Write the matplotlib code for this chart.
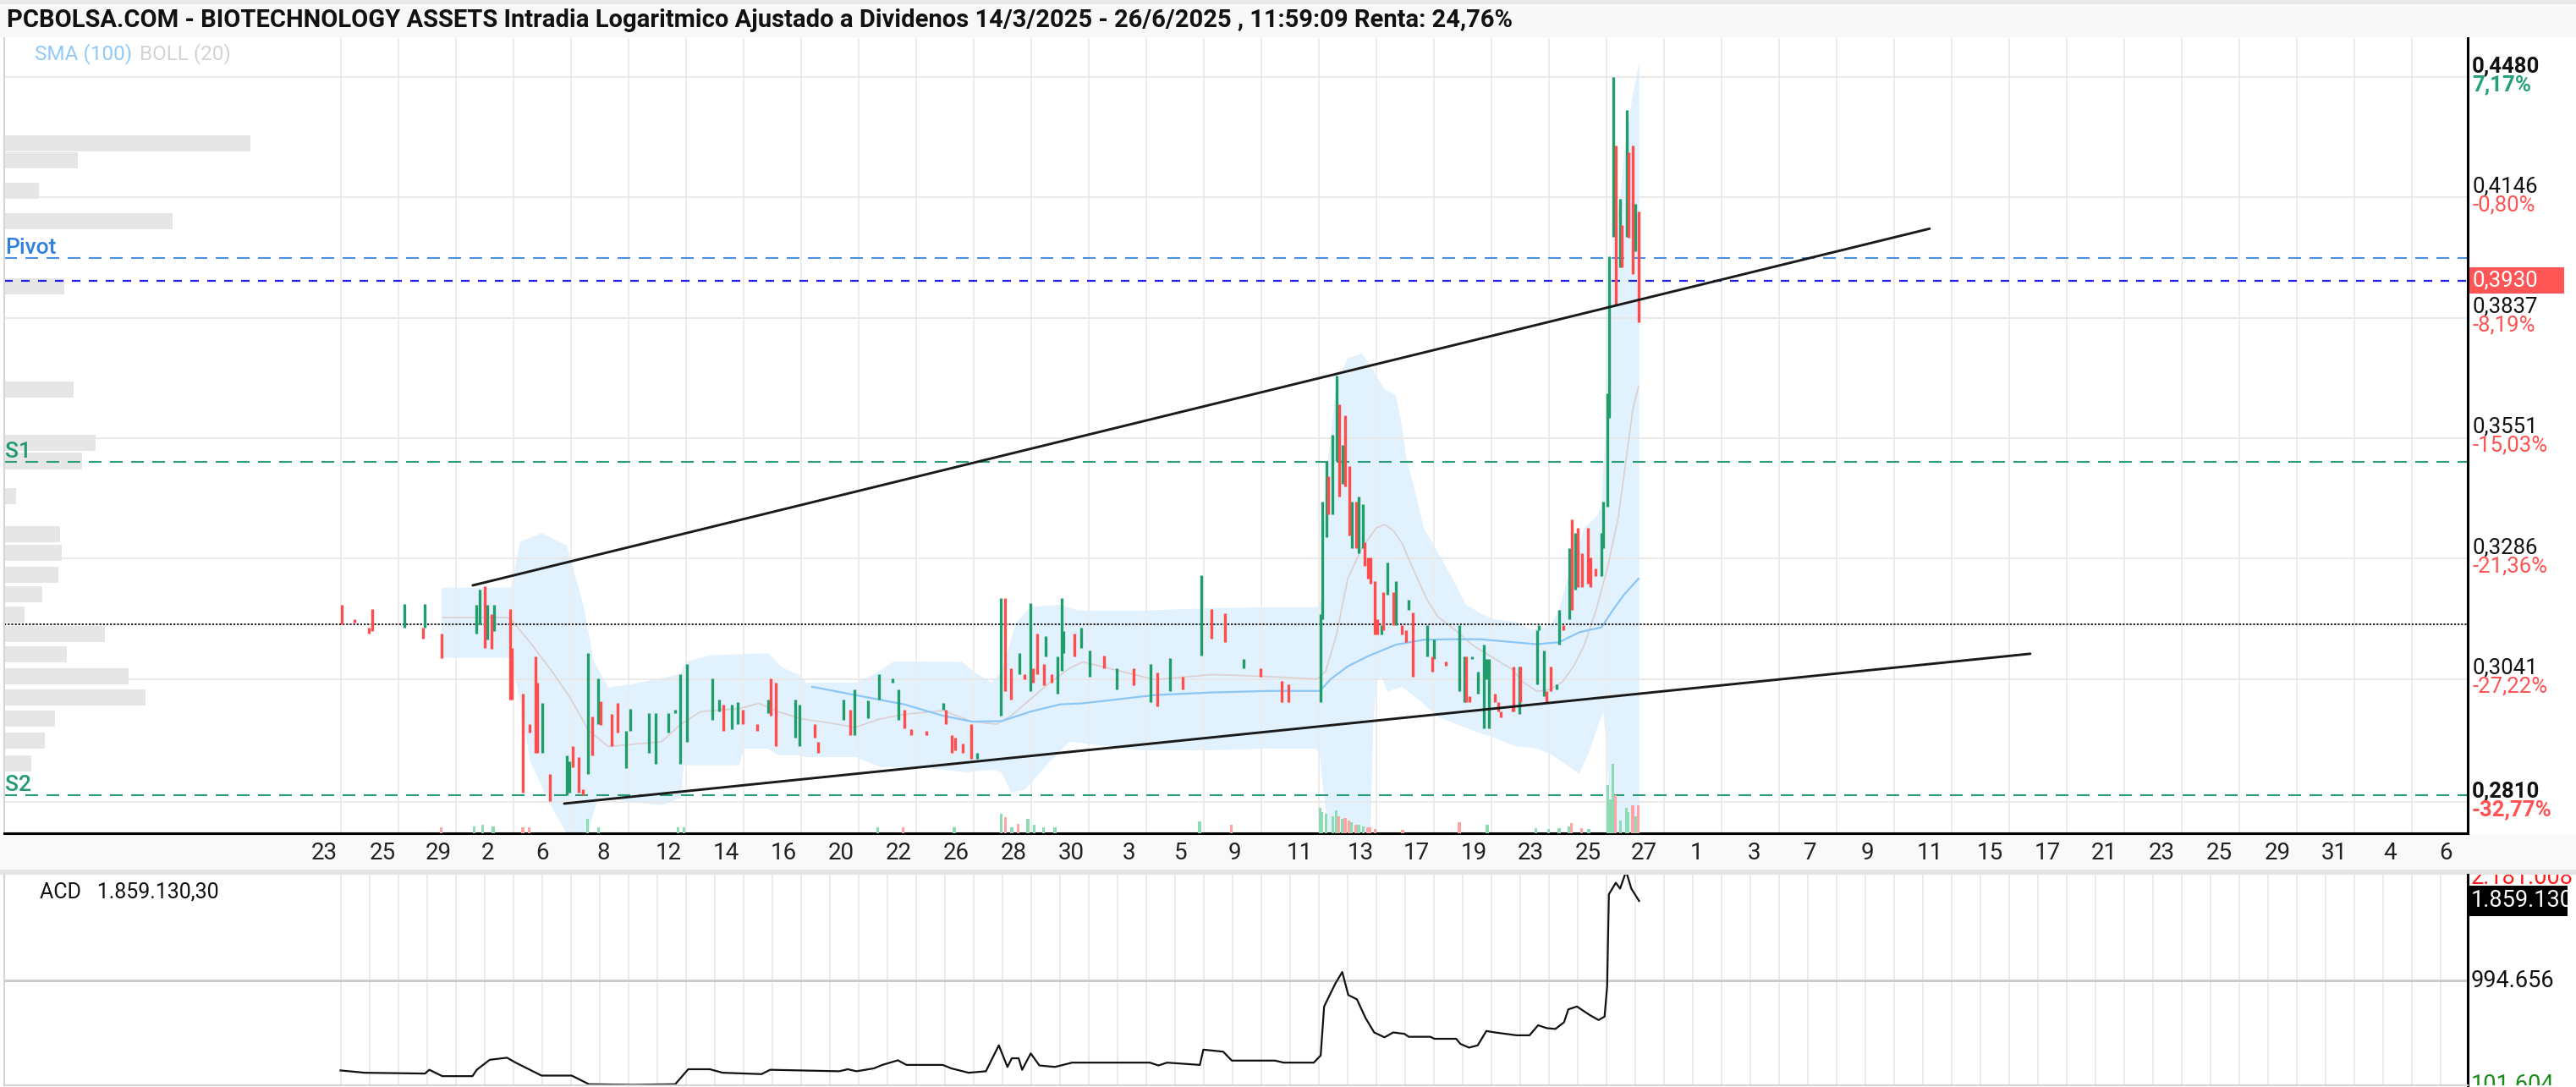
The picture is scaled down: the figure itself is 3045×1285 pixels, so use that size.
import numpy as np
import matplotlib
matplotlib.use('Agg')
import matplotlib.pyplot as plt
from matplotlib.patches import Rectangle
from matplotlib.ticker import FixedLocator, NullLocator
from matplotlib.transforms import offset_copy, blended_transform_factory

plt.rcParams['font.family'] = ['Roboto', 'DejaVu Sans']

# ---------------- data (x = trading-day index) ----------------
title = ("PCBOLSA.COM - BIOTECHNOLOGY ASSETS Intradia Logaritmico Ajustado a Dividenos "
         "14/3/2025 - 26/6/2025 , 11:59:09 Renta: 24,76%")

tick_days = [11.12, 13.15, 15.09, 16.82, 18.71, 20.82, 23.09, 25.09, 27.09, 29.09, 31.09, 33.09,
             35.09, 37.09, 39.09, 40.91, 42.79, 45.03, 47.15, 49.09, 51.09, 53.06, 55.06, 57.0,
             58.85, 60.85, 62.79, 64.79, 66.94, 69.03, 71.03, 73.0, 75.0, 77.0, 79.03, 81.0,
             82.94, 84.88]
tick_labels = ['23', '25', '29', '2', '6', '8', '12', '14', '16', '20', '22', '26', '28', '30',
               '3', '5', '9', '11', '13', '17', '19', '23', '25', '27', '1', '3', '7', '9', '11',
               '15', '17', '21', '23', '25', '29', '31', '4', '6']

c_day = [11.74, 12.18, 12.68, 12.79, 13.91, 14.62, 14.56, 15.21, 16.41, 16.53, 16.71, 16.79, 16.94,
         17.03, 17.59, 17.65, 18.03, 18.26, 18.47, 18.53, 18.71, 18.97, 19.56, 19.65, 19.76, 19.97,
         20.12, 20.29, 20.44, 20.65, 20.74, 21.12, 21.32, 21.62, 21.76, 22.41, 22.65, 23.09, 23.32,
         23.50, 23.74, 24.62, 24.85, 25.00, 25.29, 25.50, 25.68, 26.18, 26.56, 26.65, 26.82, 27.50,
         27.65, 28.18, 28.29, 29.18, 29.41, 29.56, 30.03, 30.41, 30.88, 31.09, 31.29, 31.53, 32.06,
         32.65, 32.74, 32.94, 33.06, 33.32, 33.62, 33.82, 34.65, 34.79, 35.00, 35.29, 35.47, 35.68,
         35.76, 35.91, 36.15, 36.21, 36.41, 36.62, 36.76, 36.82, 37.21, 37.44, 37.74, 38.24, 38.68,
         39.26, 39.85, 40.09, 40.53, 40.97, 41.62, 41.97, 42.44, 43.09, 43.68, 44.41, 44.65, 45.76,
         45.82, 45.97, 46.03, 46.18, 46.32, 46.41, 46.53, 46.62, 46.76, 46.85, 47.00, 47.09, 47.24,
         47.29, 47.41, 47.50, 47.65, 47.74, 47.88, 47.94, 48.09, 48.29, 48.38, 48.59, 48.74, 48.82,
         48.97, 49.47, 49.65, 49.71, 50.12, 50.59, 50.76, 50.82, 50.94, 51.03, 51.24, 51.44, 51.53,
         51.62, 51.82, 51.94, 52.03, 52.44, 52.47, 52.68, 52.71, 53.29, 53.35, 53.53, 53.62, 53.76,
         53.97, 54.06, 54.21, 54.41, 54.50, 54.62, 54.71, 54.85, 55.06, 55.15, 55.32, 55.53, 55.59,
         55.74, 55.79, 55.94, 56.03, 56.18, 56.24, 56.41, 56.47, 56.62, 56.71, 56.82]
c_open = [.3190, .3161, .3144, .3182, .3144, .3144, .3143, .3131, .3131, .3151, .3228, .3119, .3170,
          .3136, .3182, .3102, .3013, .2954, .3085, .3034, .2900, .2861, .2822, .2827, .2913, .2892,
          .2833, .2861, .2968, .2954, .2998, .2973, .2994, .2872, .2941, .2900, .2880, .2938, .2976,
          .2880, .2921, .2962, .2978, .2992, .2944, .2954, .2981, .2954, .2976, .3042, .3034, .2929,
          .2913, .2954, .2921, .2962, .2981, .2933, .2965, .3002, .3034, .2962, .2981, .2944, .2941,
          .2981, .2981, .2933, .2929, .2917, .2954, .2889, .2970, .3204, .3063, .3051, .3051, .3018,
          .3063, .3131, .3071, .3085, .3051, .3013, .3057, .3092, .3131, .3102, .3046, .3088, .3021,
          .3063, .2997, .3054, .3017, .3046, .3088, .3182, .3173, .3063, .3063, .3037, .3031, .2997,
          .3160, .3331, .3465, .3381, .3499, .3628, .3448, .3604, .3488, .3309, .3408, .3298, .3309,
          .3320, .3288, .3288, .3239, .3160, .3129, .3216, .3211, .3216, .3149, .3149, .3139, .3180,
          .3175, .3086, .3086, .3081, .3076, .3017, .2997, .3086, .3007, .3081, .3012, .2947, .3041,
          .2947, .3012, .2997, .2978, .2988, .3066, .2973, .3066, .3031, .3139, .3007, .3017, .3066,
          .3021, .3109, .3149, .3160, .3370, .3221, .3352, .3298, .3352, .3288, .3266, .3250, .3309,
          .3397, .3598, .4042, .4287, .3964, .4073, .4042, .4267, .4287, .4004, .4108]
c_close = [.3151, .3154, .3131, .3136, .3192, .3192, .3122, .3083, .3190, .3221, .3102, .3190, .3100,
           .3190, .3002, .3002, .2827, .2938, .2900, .2900, .2994, .2812, .2896, .2884, .2874, .2827,
           .2822, .3093, .2896, .3042, .2952, .2912, .2938, .2941, .2984, .2976, .2976, .2976, .2981,
           .3051, .3071, .3042, .3002, .2941, .2992, .2997, .2954, .2941, .3002, .2970, .2913, .3002,
           .2992, .2928, .2900, .3002, .2933, .3021, .3000, .3051, .3042, .3021, .2946, .2933, .2933,
           .2994, .2954, .2900, .2905, .2900, .2889, .2900, .3204, .3018, .3002, .3093, .3041, .3194,
           .3034, .3051, .3029, .3126, .3034, .3085, .3204, .3136, .3085, .3143, .3097, .3063, .3063,
           .3029, .3071, .2989, .3083, .3021, .3252, .3122, .3114, .3080, .3046, .2997, .2997, .3170,
           .3408, .3499, .3381, .3558, .3696, .3420, .3535, .3442, .3336, .3408, .3309, .3420, .3403,
           .3271, .3244, .3234, .3129, .3129, .3149, .3139, .3277, .3149, .3239, .3129, .3114, .3200,
           .3046, .3149, .3056, .3119, .3068, .3149, .3086, .2997, .2997, .3086, .3056, .3109, .3081,
           .3081, .2997, .2978, .2967, .2978, .2978, .3066, .2997, .3139, .3149, .3098, .2997, .3017,
           .3031, .3180, .3139, .3309, .3180, .3341, .3227, .3227, .3234, .3227, .3250, .3341, .3408,
           .3654, .3992, .4480, .3870, .4142, .3964, .4385, .4039, .3946, .4128, .3826]

vol_day = [15.18, 16.35, 16.62, 17.00, 18.03, 18.26, 20.29, 20.65, 23.44, 23.62, 30.38, 31.24, 33.03,
           34.65, 34.82, 35.03, 35.26, 35.59, 35.82, 36.12, 36.53, 41.56, 42.65, 45.76, 45.82, 45.97,
           46.18, 46.32, 46.41, 46.53, 46.62, 46.76, 46.85, 47.00, 47.09, 47.24, 47.41, 47.50, 47.65,
           48.62, 50.59, 51.56, 53.24, 53.68, 54.06, 54.41, 54.50, 54.85, 55.09, 55.74, 55.85, 55.94,
           56.03, 56.18, 56.41, 56.47, 56.62, 56.71, 56.82]
vol_k = [7, 8, 10, 8, 7, 7, 17, 7, 7, 7, 7, 7, 7, 23, 19, 7, 11, 17, 10, 7, 7, 14, 10, 30, 25, 23,
         20, 27, 20, 17, 18, 15, 13, 10, 10, 8, 7, 7, 5, 4, 13, 10, 6, 5, 6, 8, 12, 6, 5, 57, 40,
         82, 45, 15, 30, 25, 33, 20, 33]
vol_up = [0, 1, 1, 1, 0, 0, 1, 1, 1, 1, 1, 0, 1, 1, 0, 1, 0, 1, 1, 1, 1, 1, 0, 1, 1, 1, 1, 1, 0,
          1, 0, 0, 1, 0, 1, 1, 0, 0, 0, 0, 0, 1, 1, 1, 1, 1, 0, 0, 1, 1, 1, 1, 0, 1, 1, 1, 0, 1, 0]

upper_day = [15.21, 17.62, 17.94, 18.68, 19.56, 20.15, 20.50, 21.00, 22.00, 23.53, 23.68, 24.56,
             26.56, 27.06, 27.59, 27.91, 29.62, 30.26, 30.94, 33.29, 33.68, 34.32, 34.68, 35.18,
             35.68, 36.71, 37.35, 39.5, 42.0, 43.97, 45.65, 45.79, 45.94, 46.32, 46.71, 47.21,
             47.50, 48.00, 48.38, 48.59, 48.76, 48.97, 49.35, 49.76, 50.15, 50.44, 50.82, 51.41,
             51.82, 52.59, 53.09, 53.76, 54.06, 54.35, 54.94, 55.35, 55.53, 55.74, 55.94, 56.18,
             56.32, 56.62, 56.85]
upper_px = [.3225, .3225, .3322, .3340, .3314, .3187, .3075, .3025, .3033, .3051, .3075, .3088,
            .3092, .3063, .3051, .3034, .3034, .3051, .3076, .3075, .3057, .3034, .3057, .3153,
            .3185, .3190, .3178, .3178, .3183, .3185, .3185, .3200, .3453, .3678, .3738, .3750,
            .3719, .3664, .3651, .3580, .3499, .3454, .3352, .3309, .3266, .3234, .3190, .3170,
            .3160, .3154, .3139, .3148, .3180, .3244, .3352, .3375, .3397, .3640, .4030, .4142,
            .4267, .4427, .4524]
lower_day = [15.21, 17.62, 17.94, 18.29, 18.97, 19.47, 19.85, 20.29, 20.41, 20.65, 21.00, 21.50,
             22.85, 23.53, 23.62, 25.56, 25.71, 26.56, 26.91, 27.59, 27.91, 29.62, 30.44, 32.15,
             33.47, 34.32, 34.68, 35.00, 35.50, 36.35, 37.03, 39.5, 42.0, 43.97, 45.59, 45.74,
             45.82, 45.94, 46.09, 46.91, 47.50, 47.59, 47.71, 47.88, 48.09, 48.59, 49.26, 49.85,
             50.82, 51.82, 52.50, 53.29, 53.76, 54.26, 54.76, 55.15, 55.44, 55.59, 55.68, 55.82,
             55.94, 56.85]
lower_px = [.3083, .3083, .2997, .2884, .2807, .2761, .2733, .2738, .2777, .2818, .2818, .2812,
            .2804, .2818, .2877, .2877, .2908, .2908, .2896, .2896, .2892, .2892, .2874, .2872,
            .2864, .2869, .2864, .2827, .2833, .2884, .2921, .2905, .2905, .2908, .2908, .2898,
            .2851, .2799, .2733, .2733, .2733, .2947, .3036, .3046, .3017, .3026, .2997, .2968,
            .2947, .2928, .2913, .2908, .2898, .2880, .2861, .2908, .2956, .2977, .2929, .2804,
            .2733, .2733]
mid_day = [15.26, 17.44, 17.62, 18.29, 18.97, 19.65, 20.32, 21.00, 21.82, 22.85, 23.53, 24.21,
           25.56, 26.24, 26.91, 27.74, 28.76, 29.59, 30.44, 31.29, 32.65, 33.65, 34.50, 35.00,
           35.68, 36.35, 37.03, 37.50, 40.0, 42.0, 43.97, 45.65, 45.94, 46.32, 46.71, 47.21, 47.71,
           48.00, 48.29, 48.59, 48.97, 49.47, 49.85, 50.44, 51.03, 51.82, 52.41, 52.79, 53.29,
           53.76, 54.18, 54.56, 54.94, 55.35, 55.74, 56.12, 56.41, 56.62, 56.82]
mid_px = [.3164, .3164, .3160, .3113, .3062, .3007, .2942, .2912, .2916, .2921, .2954, .2978,
          .2984, .2994, .2978, .2964, .2956, .2948, .2964, .2973, .2980, .2959, .2954, .2970,
          .3002, .3034, .3062, .3075, .3040, .3050, .3046, .3041, .3056, .3129, .3244, .3309,
          .3352, .3359, .3346, .3320, .3266, .3200, .3165, .3139, .3109, .3081, .3061, .3036,
          .3017, .3021, .3036, .3066, .3109, .3180, .3266, .3375, .3513, .3616, .3671]
sma_day = [28.09, 29.59, 31.29, 32.65, 33.65, 34.68, 35.68, 36.71, 37.50, 40.0, 42.0, 43.97, 45.74,
           46.12, 46.71, 47.41, 48.38, 49.35, 50.35, 51.32, 52.29, 53.29, 54.06, 54.76, 55.53,
           55.94, 56.32, 56.82]
sma_px = [.3026, .3010, .2992, .2970, .2959, .2960, .2978, .2992, .2994, .3010, .3015, .3018, .3018,
          .3041, .3066, .3086, .3109, .3119, .3120, .3120, .3115, .3110, .3114, .3134, .3144, .3180,
          .3211, .3244]

prof_px = [0.4292, 0.4245, 0.4164, 0.4083, 0.3916, 0.3664, 0.3541, 0.3499, 0.3420, 0.3338, 0.3298,
           0.3252, 0.3212, 0.3170, 0.3131, 0.3090, 0.3046, 0.3005, 0.2965, 0.2923, 0.2881]
prof_vol = [291, 87, 41, 199, 71, 82, 108, 92, 14, 66, 68, 64, 45, 24, 119, 74, 147, 167, 60, 48, 32]

trend_up_day, trend_up_px = [16.29, 66.94], [0.3230, 0.4063]
trend_lo_day, trend_lo_px = [19.47, 70.44], [0.2807, 0.3091]
pivot, last_price, s1, s2, ref_level = 0.3987, 0.3930, 0.3497, 0.2822, 0.3150

axis_prices = [0.4480, 0.4146, 0.3837, 0.3551, 0.3286, 0.3041, 0.2810]
axis_pcts = ['7,17%', '-0,80%', '-8,19%', '-15,03%', '-21,36%', '-27,22%', '-32,77%']

acd_day = [11.69, 12.53, 14.63, 14.78, 15.23, 16.28, 16.43, 16.88, 17.48, 17.78, 18.68, 19.73, 20.33,
           21.83, 23.33, 23.78, 24.53, 24.98, 26.33, 26.63, 29.03, 29.33, 29.63, 30.23, 30.53,
           31.07, 31.37, 32.63, 32.93, 33.53, 34.13, 34.58, 34.88, 35.03, 35.27, 35.39, 35.69,
           35.99, 36.53, 37.13, 39.83, 40.13, 40.43, 41.57, 41.69, 42.38, 42.68, 44.18, 44.48,
           45.53, 45.77, 45.89, 46.28, 46.52, 46.73, 47.03, 47.33, 47.63, 47.99, 48.29, 48.68,
           48.83, 49.58, 49.73, 50.48, 50.63, 50.93, 51.23, 51.53, 51.83, 52.58, 53.03, 53.33,
           53.63, 53.93, 54.23, 54.38, 54.68, 55.13, 55.43, 55.64, 55.73, 55.79, 56.03, 56.18,
           56.39, 56.57, 56.84]
acd_k = [16, -9, -18, 23, -46, -46, 23, 132, 154, 101, -40, -40, -134, -140, -134, 29, 29, -9, -24,
         23, 7, 29, 7, 38, 76, 126, 76, 76, 38, -9, 7, 289, 54, 148, 148, 23, 201, 70, 54, 101, 101,
         70, 101, 76, 242, 220, 123, 123, 101, 101, 179, 711, 961, 1086, 836, 789, 586, 429, 376,
         429, 414, 382, 382, 360, 360, 304, 264, 289, 445, 429, 398, 398, 507, 476, 467, 539, 680,
         711, 617, 564, 601, 930, 1931, 2056, 1993, 2181, 1993, 1859]
acd_last, acd_top, acd_mid, acd_bot = 1859130.30, 2181008, 994656, 101604

GREEN, RED = '#1f9e6b', '#ff4d4d'
VGREEN, VRED = '#8ddbb2', '#ffa3a3'

# ---------------- figure / layout ----------------
W, H = 3045, 1285
fig = plt.figure(figsize=(W / 100, H / 100), dpi=100)
fig.patch.set_facecolor('white')


def fy(py):
    return 1 - py / H


for y0, y1, col in [(0, 44, '#f8f8f8'), (0, 5, '#e8e8e8'), (987, 1028, '#f9f9f9'),
                    (1028, 1034, '#e4e4e4')]:
    fig.add_artist(Rectangle((0, fy(y1)), 1, (y1 - y0) / H, transform=fig.transFigure,
                             color=col, lw=0, zorder=0))
fig.text(8 / W, fy(24), title, fontsize=21, fontweight='bold', va='center', color='#111111')

main_rect = [5 / W, fy(985), 2912 / W, (985 - 45) / H]
ax = fig.add_axes(main_rect)
prof = ax.twiny()
vol = ax.twinx()
prof.set_zorder(1)
ax.set_zorder(2)
vol.set_zorder(3)
for a in (ax, prof, vol):
    a.patch.set_visible(False)

ax.set_yscale('log')
ax.set_ylim(0.2754, 0.4593)
ax.set_xlim(0, 85.65)

# volume profile on the left
p = np.array(prof_px)
prof.barh(p / 1.0052, prof_vol, height=p * 1.0052 - p / 1.0052, align='edge', left=0,
          color='#e6e6e6', lw=0)
prof.set_xlim(0, 2912)
prof.axis('off')

# grid
ax.yaxis.set_major_locator(FixedLocator(axis_prices))
ax.yaxis.set_minor_locator(NullLocator())
ax.tick_params(axis='y', which='both', length=0, labelleft=False, labelright=False)
ax.grid(axis='y', color='#e6e6e6', lw=1.2)
ax.set_xticks(tick_days, tick_labels)
ax.set_xticks(np.arange(11.7, 85.6, 2.0), minor=True)
ax.grid(axis='x', which='minor', color='#ececec', lw=1.3)
ax.tick_params(axis='x', which='both', length=0, labelsize=20, pad=7, colors='#222222')
ax.spines['top'].set_visible(False)
ax.spines['left'].set_color('#d5d5d5')
ax.spines['left'].set_linewidth(1.5)
for s in ('right', 'bottom'):
    ax.spines[s].set_color('black')
    ax.spines[s].set_linewidth(2.2)

# bollinger band, middle line, sma
ax.fill(np.r_[upper_day, lower_day[::-1]], np.r_[upper_px, lower_px[::-1]],
        color='#e1f1fd', lw=0, zorder=1)
ax.plot(mid_day, mid_px, color='#dccfcf', lw=1.2, zorder=2)
ax.plot(sma_day, sma_px, color='#8cc6f5', lw=1.6, zorder=2)

# level lines
ax.axhline(pivot, color='#4a90e2', lw=1.5, ls=(0, (7.2, 4.8)), zorder=2)
ax.axhline(last_price, color='#1f1fe6', lw=1.6, ls=(0, (4.5, 4.5)), zorder=2)
ax.axhline(s1, color='#2a9d78', lw=1.5, ls=(0, (7.2, 4.8)), zorder=2)
ax.axhline(s2, color='#2a9d78', lw=1.5, ls=(0, (7.2, 4.8)), zorder=2)
ax.axhline(ref_level, color='#2a2a2a', lw=1.5, ls=(0, (1.1, 0.9)), zorder=2)
bt = blended_transform_factory(ax.transAxes, ax.transData)
for lvl, name, col in [(pivot, 'Pivot', '#2f80e0'), (s1, 'S1', '#229a74'), (s2, 'S2', '#229a74')]:
    ax.text(0.0004, lvl, name, transform=bt, va='bottom', ha='left', fontsize=19,
            fontweight='medium', color=col, zorder=4)

# trend lines
ax.plot(trend_up_day, trend_up_px, color='#1a1a1a', lw=2.1, zorder=4, solid_capstyle='round')
ax.plot(trend_lo_day, trend_lo_px, color='#1a1a1a', lw=2.1, zorder=4, solid_capstyle='round')

# candles
d = np.array(c_day)
o = np.array(c_open)
c = np.array(c_close)
up = c >= o
ax.vlines(d[up], o[up], c[up], color=GREEN, lw=2.4, zorder=3)
ax.vlines(d[~up], c[~up], o[~up], color=RED, lw=2.4, zorder=3)

# volume
vol.bar(vol_day, np.array(vol_k) * 1000, width=0.09,
        color=[VGREEN if u else VRED for u in vol_up], lw=0)
vol.set_ylim(0, 940000)
vol.axis('off')

# legend text
t1 = ax.text(0.0125, 0.98, 'SMA (100)', transform=ax.transAxes, fontsize=17.5, color='#90caf9',
             va='center')
ax.annotate('BOLL (20)', xy=(1, 0.5), xycoords=t1, xytext=(6, 0), textcoords='offset points',
            fontsize=17.5, color='#d3d3d3', va='center')

# right price labels
axr = fig.add_axes([2917 / W, fy(985), 128 / W, (985 - 45) / H], sharey=ax)
axr.set_xlim(0, 1)
axr.axis('off')
t_up = offset_copy(axr.transData, fig=fig, y=6, units='dots')
t_dn = offset_copy(axr.transData, fig=fig, y=3, units='dots')
for i, (pr, pc) in enumerate(zip(axis_prices, axis_pcts)):
    edge = i in (0, len(axis_prices) - 1)
    axr.text(0.04, pr, f"{pr:.4f}".replace('.', ','), transform=t_up, va='baseline',
             fontsize=18.5, color='#111111', fontweight='bold' if edge else 'normal')
    axr.text(0.04, pr, pc, transform=t_dn, va='top', fontsize=18.5,
             color='#26a07a' if pc[0] != '-' else '#ff5252',
             fontweight='bold' if edge else 'normal')
axr.axhspan(last_price / 1.0085, last_price * 1.0085, xmin=0, xmax=0.89, color='#ff5555', lw=0)
axr.text(0.04, last_price, f"{last_price:.4f}".replace('.', ','), va='center', fontsize=18.5,
         color='white')

# ---------------- ACD panel ----------------
ax2 = fig.add_axes([5 / W, fy(1283), 2912 / W, (1283 - 1034) / H])
ax2.set_xlim(0, 85.65)
ax2.set_ylim(-145710, 2144219)
ax2.plot(acd_day, np.array(acd_k) * 1000, color='#111111', lw=1.6)
ax2.set_xticks([])
ax2.set_xticks(np.arange(11.7, 85.6, 1.0), minor=True)
ax2.grid(axis='x', which='minor', color='#e8e8e8', lw=1.2)
ax2.set_yticks([acd_mid])
ax2.grid(axis='y', color='#cccccc', lw=2.2)
ax2.tick_params(axis='both', which='both', length=0, labelleft=False, labelbottom=False)
ax2.spines['top'].set_visible(False)
ax2.spines['left'].set_color('#d5d5d5')
ax2.spines['left'].set_linewidth(1.5)
ax2.spines['bottom'].set_color('#d5d5d5')
ax2.spines['bottom'].set_linewidth(1.5)
ax2.spines['right'].set_color('black')
ax2.spines['right'].set_linewidth(2.2)
ax2.text(0.0144, 0.916, 'ACD   ' + f"{acd_last:,.2f}".replace(',', 'X').replace('.', ',')
         .replace('X', '.'), transform=ax2.transAxes, fontsize=18, va='center', color='#111111')

ax2r = fig.add_axes([2917 / W, fy(1283), 128 / W, (1283 - 1034) / H], sharey=ax2)
ax2r.set_xlim(0, 1)
ax2r.axis('off')


def dots(v):
    return f"{v:,.0f}".replace(',', '.')


ax2r.axhspan(acd_last - 161000, acd_last + 161000, xmin=0, xmax=0.92, color='black', lw=0)
ax2r.text(0.03, acd_last, dots(acd_last), va='center', fontsize=19.5, color='white')
ax2r.text(0.03, acd_mid, dots(acd_mid), va='center', fontsize=19.5, color='#111111')
# axis extreme labels sit on the panel edges and are partly clipped, as in the source chart
ax2r.text(0.03, 0.985, dots(acd_top), transform=ax2r.transAxes, va='center', fontsize=19.5,
          color='#ff1a1a', clip_on=True)
ax2r.text(0.03, 0.0, dots(acd_bot), transform=ax2r.transAxes, va='center', fontsize=19.5,
          color='#1a8a1a', clip_on=True)

fig.savefig('out.png', dpi=100)
